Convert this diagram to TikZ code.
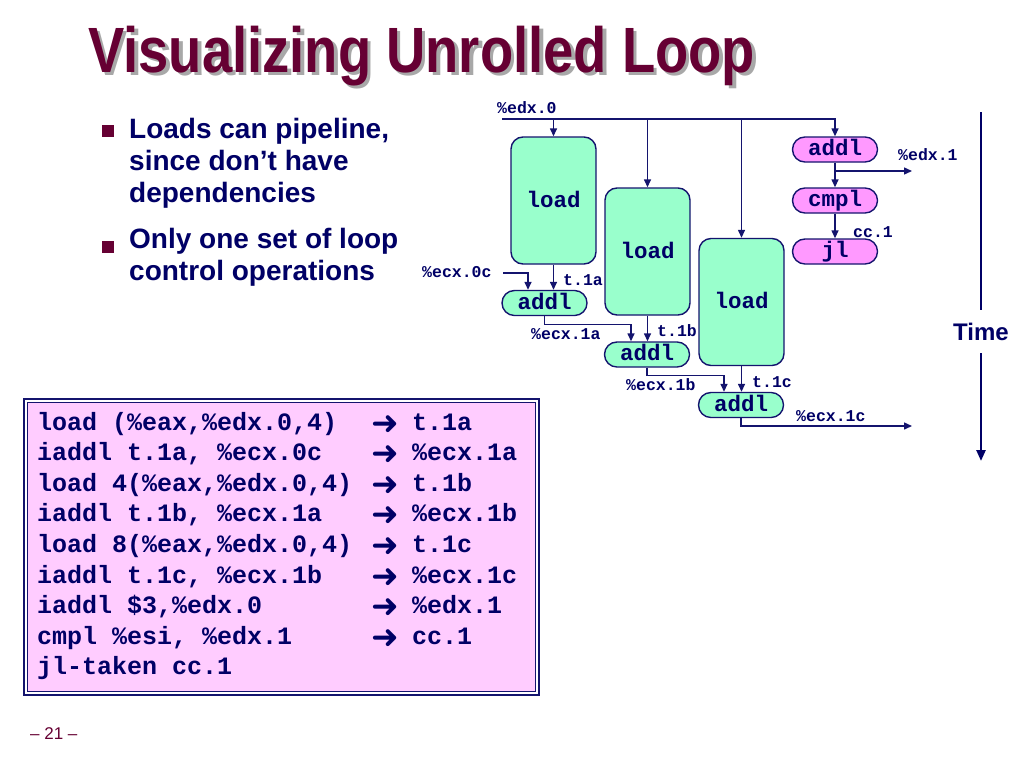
\documentclass[tikz,border=0pt]{standalone}
\usepackage{fontspec}
\usepackage{graphicx}
\setmainfont{Liberation Sans}
\newfontfamily\monof{Liberation Mono}
\newfontfamily\symf{DejaVu Sans}
\usetikzlibrary{arrows.meta,calc}
\definecolor{navy}{HTML}{000066}
\definecolor{lnavy}{HTML}{14146E}
\definecolor{maroon}{HTML}{660033}
\definecolor{mint}{HTML}{99FFCC}
\definecolor{pinkop}{HTML}{FF99FF}
\definecolor{pinkbox}{HTML}{FFCCFF}
\definecolor{shadowgray}{HTML}{A8A8A8}
\tikzset{
  wire/.style={draw=lnavy, line width=1.4pt},
  arr/.style={wire, -{Triangle[length=8pt,width=7pt]}},
  loadbox/.style={draw=lnavy, line width=1.4pt, fill=mint, rounded corners=12pt,
    minimum width=85pt, minimum height=127pt, inner sep=0pt,
    font=\monof\bfseries\fontsize{22.5}{22.5}\selectfont, text=navy,
    text height=13pt, text depth=0pt},
  opg/.style={draw=lnavy, line width=1.4pt, fill=mint, rounded corners=12.4pt,
    minimum width=85pt, minimum height=25pt, inner sep=0pt,
    font=\monof\bfseries\fontsize{22.5}{22.5}\selectfont, text=navy,
    text height=12.5pt, text depth=0pt},
  opp/.style={opg, fill=pinkop},
  lbl/.style={font=\monof\bfseries\fontsize{16.5}{16.5}\selectfont, text=navy,
    anchor=base west, inner sep=0pt},
  code/.style={font=\monof\bfseries\fontsize{25}{25}\selectfont, text=navy,
    anchor=base west, inner sep=0pt},
  codearrow/.style={font=\symf\bfseries\fontsize{33}{33}\selectfont, text=navy,
    anchor=base west, inner sep=0pt},
  bullettext/.style={font=\bfseries\fontsize{28}{28}\selectfont, text=navy,
    anchor=base west, inner sep=0pt},
  titletext/.style={font=\bfseries\fontsize{64}{64}\selectfont,
    anchor=base west, inner sep=0pt},
}
\begin{document}
\begin{tikzpicture}[x=1pt,y=-1pt]
\useasboundingbox (0,0) rectangle (1024,768);
\fill[white] (0,0) rectangle (1024,768);

% Title with shadow
\node[titletext, text=shadowgray] (titleshadow) at (91.5,75.5) {\scalebox{0.85}[1]{Visualizing Unrolled Loop}};
\node[titletext, text=maroon] (title) at (88,72) {\scalebox{0.85}[1]{Visualizing Unrolled Loop}};

% Bullets
\fill[maroon] (102,125) rectangle (114,137);
\fill[maroon] (102,241) rectangle (114,253);
\node[bullettext] (b1) at (129,138) {Loads can pipeline,};
\node[bullettext] (b2) at (129,170) {since don’t have};
\node[bullettext] (b3) at (129,202) {dependencies};
\node[bullettext] (b4) at (129,248) {Only one set of loop};
\node[bullettext] (b5) at (129,280) {control operations};

% Diagram nodes
\node[loadbox] (load1) at (553.5,200.5) {load};
\node[loadbox] (load2) at (647.5,251.5) {load};
\node[loadbox] (load3) at (741.5,302) {load};
\node[opg] (addl1) at (544.5,303) {addl};
\node[opg] (addl2) at (647,354.5) {addl};
\node[opg] (addl3) at (741,405) {addl};
\node[opp] (paddl) at (835,149.5) {addl};
\node[opp] (cmpl) at (835,200.5) {cmpl};
\node[opp] (jl) at (835,251.5) {jl};

\coordinate (e0) at (502,119);
\coordinate (c0) at (503,273);
\coordinate (out1) at (912,426);
\coordinate (out2) at (912,171);

% edx.0 bus
\draw[arr] (e0) -| (paddl.north);
\draw[arr] (load1.north |- e0) -- (load1.north);
\draw[arr] (load2.north |- e0) -- (load2.north);
\draw[arr] (load3.north |- e0) -- (load3.north);

% ecx chain
\draw[arr] (c0) -| ([xshift=-16.5pt]addl1.north);
\draw[arr] (load1.south) -- (load1.south |- addl1.north);
\draw[arr] (addl1.south) -- ++(0,8) -| ([xshift=-16pt]addl2.north);
\draw[arr] (load2.south) -- (load2.south |- addl2.north);
\draw[arr] (addl2.south) -- ++(0,8) -| ([xshift=-17pt]addl3.north);
\draw[arr] (load3.south) -- (load3.south |- addl3.north);
\draw[arr] (addl3.south) |- (out1);

% loop control
\draw[arr] (paddl.south) -- (cmpl.north);
\draw[arr] (paddl.south |- out2) -- (out2);
\draw[arr] (cmpl.south) -- (jl.north);

% labels
\node[lbl] (l0) at (497,113) {\%edx.0};
\node[lbl] (l1) at (422,277) {\%ecx.0c};
\node[lbl] (l2) at (563,285) {t.1a};
\node[lbl] (l3) at (531,339) {\%ecx.1a};
\node[lbl] (l4) at (657,336) {t.1b};
\node[lbl] (l5) at (626,390) {\%ecx.1b};
\node[lbl] (l6) at (752,387) {t.1c};
\node[lbl] (l7) at (796,421) {\%ecx.1c};
\node[lbl] (l8) at (898,160) {\%edx.1};
\node[lbl] (l9) at (853,237) {cc.1};

% Time axis
\node[font=\bfseries\fontsize{24}{24}\selectfont, text=navy, minimum height=43pt, inner sep=0pt] (time) at (981,331.5) {Time};
\coordinate (t0) at (981,112);
\coordinate (t1) at (981,461);
\draw[draw=navy, line width=2.4pt] (t0) -- (time.north);
\draw[draw=navy, line width=2.4pt, -{Triangle[length=11pt,width=9pt]}] (time.south) -- (t1);

% Code box
\draw[draw=lnavy, line width=1.6pt, fill=white] (24,399) rectangle (539,695);
\draw[draw=lnavy, line width=1.6pt, fill=pinkbox] (27.5,402.5) rectangle (535.5,691.5);

\node[code] (c1) at (37,430) {load (\%eax,\%edx.0,4)};
\node[code] (c2) at (37,460.6) {iaddl t.1a, \%ecx.0c};
\node[code] (c3) at (37,491.2) {load 4(\%eax,\%edx.0,4)};
\node[code] (c4) at (37,521.8) {iaddl t.1b, \%ecx.1a};
\node[code] (c5) at (37,552.4) {load 8(\%eax,\%edx.0,4)};
\node[code] (c6) at (37,583) {iaddl t.1c, \%ecx.1b};
\node[code] (c7) at (37,613.6) {iaddl \$3,\%edx.0};
\node[code] (c8) at (37,644.2) {cmpl \%esi, \%edx.1};
\node[code] (c9) at (37,674.8) {jl-taken cc.1};

\node[codearrow] (a1) at (371,434) {➜};
\node[codearrow] (a2) at (371,464.6) {➜};
\node[codearrow] (a3) at (371,495.2) {➜};
\node[codearrow] (a4) at (371,525.8) {➜};
\node[codearrow] (a5) at (371,556.4) {➜};
\node[codearrow] (a6) at (371,587) {➜};
\node[codearrow] (a7) at (371,617.6) {➜};
\node[codearrow] (a8) at (371,648.2) {➜};

\node[code] (r1) at (412,430) {t.1a};
\node[code] (r2) at (412,460.6) {\%ecx.1a};
\node[code] (r3) at (412,491.2) {t.1b};
\node[code] (r4) at (412,521.8) {\%ecx.1b};
\node[code] (r5) at (412,552.4) {t.1c};
\node[code] (r6) at (412,583) {\%ecx.1c};
\node[code] (r7) at (412,613.6) {\%edx.1};
\node[code] (r8) at (412,644.2) {cc.1};

% footer
\node[anchor=base west, inner sep=0pt, text=maroon, font=\fontsize{17}{17}\selectfont] (pg) at (30,739) {– 21 –};
\end{tikzpicture}
\end{document}
